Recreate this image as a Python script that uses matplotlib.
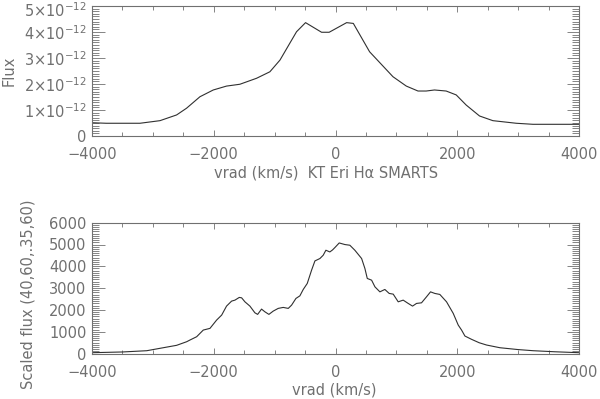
import matplotlib
matplotlib.use("Agg")
import matplotlib.pyplot as plt
from matplotlib.ticker import MultipleLocator, FixedLocator
from matplotlib.transforms import ScaledTranslation

# ---- data ----
v_top = [-4000, -3767, -3212, -2883, -2610, -2446, -2227, -2008, -1790, -1571,
         -1297, -1078, -912, -750, -640, -492, -229, -104, 183, 293,
         560, 944, 1163, 1355, 1490, 1626, 1818, 1983, 2147, 2366,
         2585, 2969, 3243, 4000]
flux_top = [0.51, 0.49, 0.49, 0.59, 0.81, 1.07, 1.51, 1.77, 1.92, 1.99,
            2.22, 2.47, 2.92, 3.57, 4.01, 4.36, 3.99, 3.99, 4.36, 4.33,
            3.24, 2.28, 1.92, 1.73, 1.73, 1.77, 1.73, 1.58, 1.19, 0.77,
            0.59, 0.49, 0.45, 0.45]  # units of 1e-12

v_bot = [-4000, -3500, -3100, -2883, -2610, -2445, -2391, -2281, -2172, -2062,
         -1953, -1870, -1790, -1707, -1652, -1581, -1542, -1488, -1406, -1324,
         -1279, -1215, -1160, -1094, -1023, -941, -859, -776, -721, -650,
         -585, -530, -464, -393, -338, -256, -202, -158, -93, -49,
         -10, 61, 154, 236, 318, 429, 483, 522, 593, 648,
         729, 811, 882, 948, 1030, 1112, 1194, 1266, 1331, 1413,
         1495, 1561, 1632, 1714, 1824, 1934, 2016, 2071, 2126, 2235,
         2360, 2481, 2700, 3000, 3247, 3600, 4000]
flux_bot = [37, 70, 128, 238, 375, 540, 618, 769, 1075, 1153,
            1533, 1762, 2174, 2403, 2448, 2572, 2554, 2371, 2174, 1867,
            1794, 2037, 1913, 1794, 1945, 2069, 2114, 2069, 2220, 2526,
            2645, 2938, 3213, 3822, 4247, 4357, 4508, 4737, 4659, 4750,
            4860, 5071, 4998, 4966, 4737, 4357, 3899, 3442, 3364, 3057,
            2828, 2938, 2755, 2723, 2371, 2448, 2297, 2174, 2297, 2325,
            2600, 2828, 2755, 2709, 2371, 1840, 1304, 1075, 801, 650,
            494, 389, 265, 180, 128, 80, 37]

x_ticks = [-4000, -2000, 0, 2000, 4000]
x_ticklabels = ["\u22124000", "\u22122000", "0", "2000", "4000"]
top_yticks = [0, 1, 2, 3, 4, 5]
top_yticklabels = ["0", r"1$\times$10$^{-12}$", r"2$\times$10$^{-12}$",
                   r"3$\times$10$^{-12}$", r"4$\times$10$^{-12}$", r"5$\times$10$^{-12}$"]
bot_yticks = [0, 1000, 2000, 3000, 4000, 5000, 6000]
bot_yticklabels = ["0", "1000", "2000", "3000", "4000", "5000", "6000"]

top_xlabel = "vrad (km/s)  KT Eri H\u03b1 SMARTS"
top_ylabel = "Flux"
bot_xlabel = "vrad (km/s)"
bot_ylabel = "Scaled flux (40,60,.35,60)"

# ---- style ----
TXT = "#707070"
AX = "#707070"
LINE = "#303030"
FS = 10.5
plt.rcParams["font.family"] = ["DejaVu Sans"]
plt.rcParams["mathtext.fontset"] = "dejavusans"

fig = plt.figure(figsize=(6.0, 3.99), dpi=100)
ax1 = fig.add_axes([92/600, 1-136/399, 487/600, 130/399])
ax2 = fig.add_axes([92/600, 1-353.5/399, 487/600, 130.8/399])


def style(ax, yminor):
    for s in ax.spines.values():
        s.set_color(AX)
        s.set_linewidth(0.8)
    ax.set_xlim(-4000, 4000)
    ax.xaxis.set_major_locator(FixedLocator(x_ticks))
    ax.set_xticklabels(x_ticklabels)
    ax.xaxis.set_minor_locator(MultipleLocator(500))
    ax.yaxis.set_minor_locator(MultipleLocator(yminor))
    ax.tick_params(axis="both", which="both", direction="in", colors=AX,
                   labelcolor=TXT, labelsize=FS, top=True, right=True, width=0.6)
    ax.tick_params(axis="x", which="major", length=4, pad=8)
    ax.tick_params(axis="x", which="minor", length=3)
    ax.tick_params(axis="y", which="major", length=9, pad=4)
    ax.tick_params(axis="y", which="minor", length=5)


ax1.plot(v_top, flux_top, color=LINE, lw=0.8)
style(ax1, 0.1)
ax1.set_ylim(0, 5)
ax1.set_yticks(top_yticks)
ax1.set_yticklabels(top_yticklabels)
# nudge the topmost label down so its exponent stays inside the figure
lab5 = ax1.get_yticklabels()[-1]
lab5.set_transform(lab5.get_transform() + ScaledTranslation(0, -3/100, fig.dpi_scale_trans))
ax1.set_xlabel(top_xlabel, fontsize=FS, color=TXT)
ax1.xaxis.set_label_coords(0.48, -0.225)
ax1.set_ylabel(top_ylabel, fontsize=FS, color=TXT)
ax1.yaxis.set_label_coords(-0.155, 0.5)

ax2.plot(v_bot, flux_bot, color=LINE, lw=0.8)
style(ax2, 100)
ax2.set_ylim(0, 6000)
ax2.set_yticks(bot_yticks)
ax2.set_yticklabels(bot_yticklabels)
ax2.set_xlabel(bot_xlabel, fontsize=FS, color=TXT)
ax2.xaxis.set_label_coords(0.497, -0.225)
ax2.set_ylabel(bot_ylabel, fontsize=FS, color=TXT)
ax2.yaxis.set_label_coords(-0.115, 0.455)

fig.savefig("out.png", dpi=100)
